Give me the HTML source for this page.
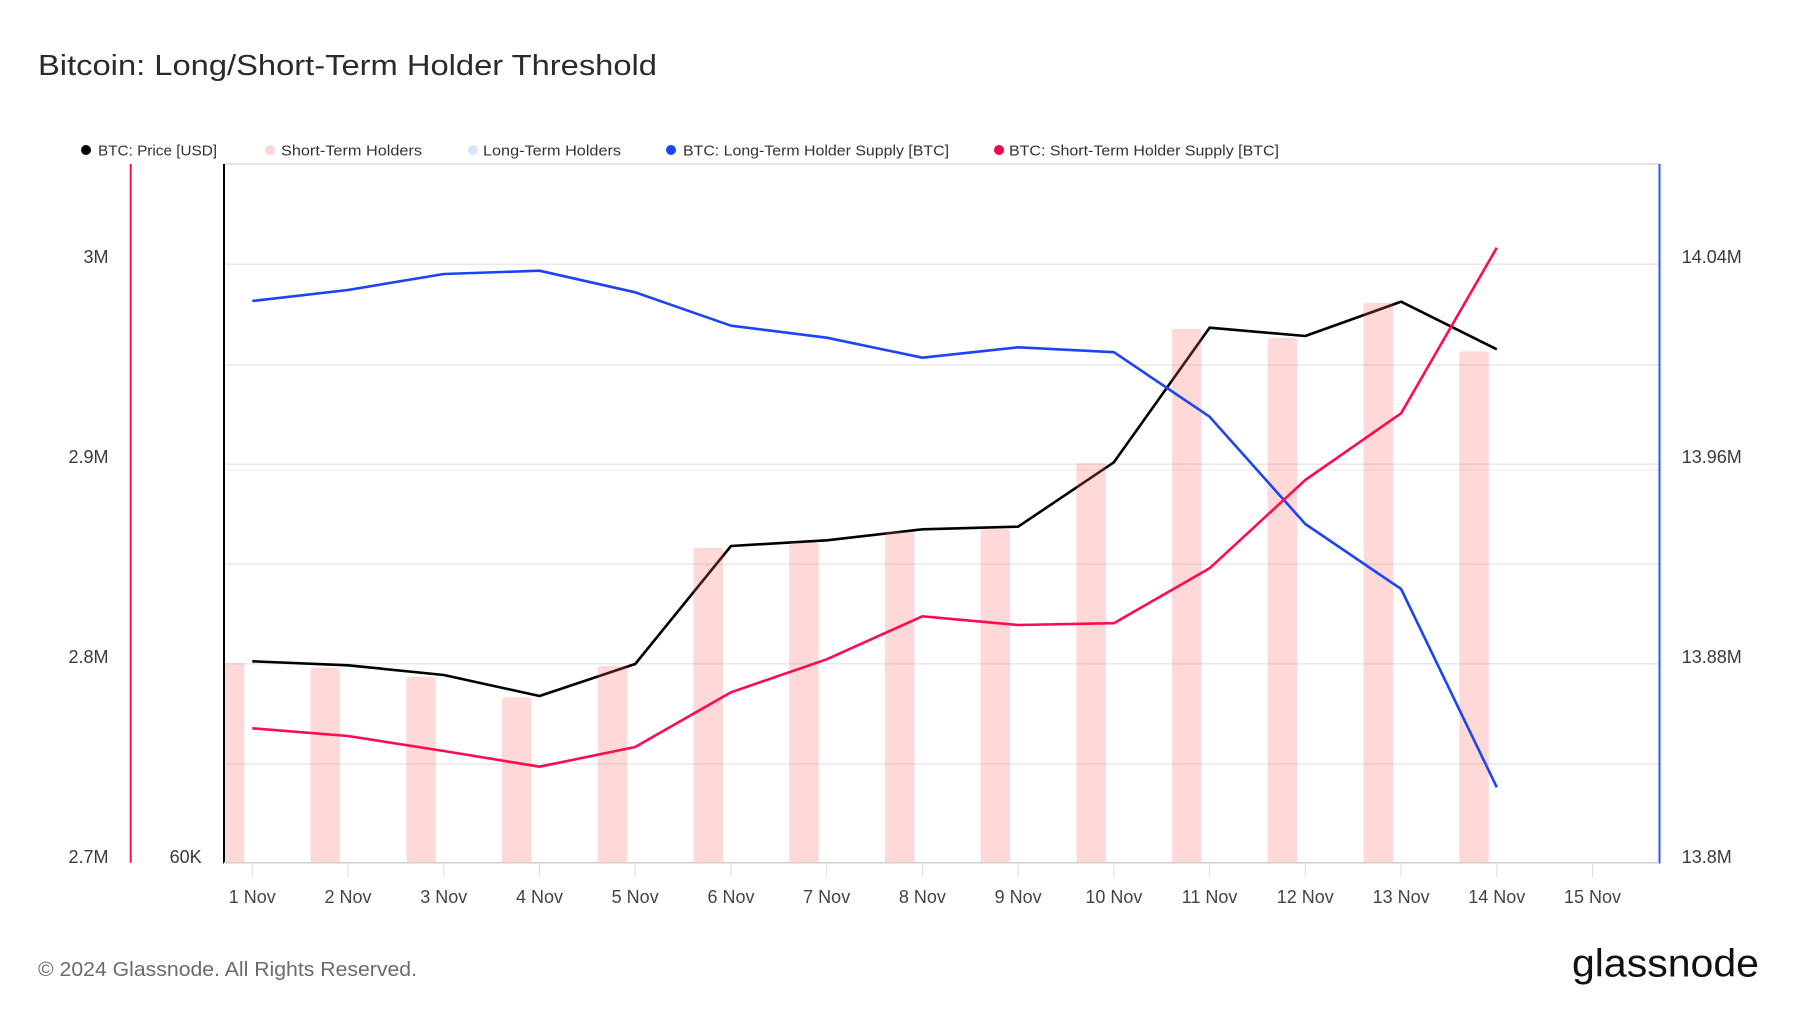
<!DOCTYPE html>
<html>
<head>
<meta charset="utf-8">
<style>
  html, body { margin: 0; padding: 0; background: #ffffff; }
  svg { display: block; }
  text { font-family: "Liberation Sans", Arial, sans-serif; }
</style>
</head>
<body>
<svg width="1800" height="1013" viewBox="0 0 1800 1013" xmlns="http://www.w3.org/2000/svg">
  <rect x="0" y="0" width="1800" height="1013" fill="#ffffff"/>

  <!-- Title -->
  <text x="38" y="75" font-size="29" fill="#2b2b2b" textLength="619" lengthAdjust="spacingAndGlyphs">Bitcoin: Long/Short-Term Holder Threshold</text>

  <!-- Legend -->
  <g font-size="15" fill="#333333">
    <circle cx="86" cy="150" r="5" fill="#000000"/>
    <text x="98" y="155.5" textLength="119" lengthAdjust="spacingAndGlyphs">BTC: Price [USD]</text>
    <circle cx="270" cy="150" r="5" fill="#fdd5d5"/>
    <text x="281" y="155.5" textLength="141" lengthAdjust="spacingAndGlyphs">Short-Term Holders</text>
    <circle cx="473" cy="150" r="5" fill="#d5e4fb"/>
    <text x="483" y="155.5" textLength="138" lengthAdjust="spacingAndGlyphs">Long-Term Holders</text>
    <circle cx="671" cy="150" r="5" fill="#1a44f5"/>
    <text x="683" y="155.5" textLength="266" lengthAdjust="spacingAndGlyphs">BTC: Long-Term Holder Supply [BTC]</text>
    <circle cx="999" cy="150" r="5" fill="#f5004f"/>
    <text x="1009" y="155.5" textLength="270" lengthAdjust="spacingAndGlyphs">BTC: Short-Term Holder Supply [BTC]</text>
  </g>

  <!-- Top frame line -->
  <line x1="224" y1="164" x2="1660" y2="164" stroke="#e3e3e3" stroke-width="2"/>

  <!-- Gridlines -->
  <g stroke="#e8e8e8" stroke-width="1.5">
    <line x1="224" y1="264.3" x2="1659" y2="264.3"/>
    <line x1="224" y1="365" x2="1659" y2="365"/>
    <line x1="224" y1="464.3" x2="1659" y2="464.3"/>
    <line x1="224" y1="470" x2="1659" y2="470" stroke="#f2f2f2"/>
    <line x1="224" y1="564.3" x2="1659" y2="564.3"/>
    <line x1="224" y1="663.7" x2="1659" y2="663.7"/>
    <line x1="224" y1="763.7" x2="1659" y2="763.7"/>
  </g>

  <!-- Price line (under bars) -->
  <polyline fill="none" stroke="#000000" stroke-width="2.6" stroke-linejoin="round"
    points="252.3,661.3 348.0,665.3 443.8,675 539.5,696 635.2,664 731.0,546 826.7,540.3 922.4,529.3 1018.1,526.7 1113.9,462.3 1209.6,327.7 1305.3,336 1401.1,301.7 1496.8,349.3"/>

  <!-- Bars (Short-Term Holders) -->
  <defs>
    <clipPath id="plotclip"><rect x="225" y="164" width="1434" height="699"/></clipPath>
  </defs>
  <g fill="rgba(255,100,100,0.25)" clip-path="url(#plotclip)">
    <path d="M214.8,862.7 V666.3 a3,3 0 0 1 3,-3 H241.3 a3,3 0 0 1 3,3 V862.7 Z"/>
    <path d="M310.5,862.7 V670.7 a3,3 0 0 1 3,-3 H337.0 a3,3 0 0 1 3,3 V862.7 Z"/>
    <path d="M406.3,862.7 V679.7 a3,3 0 0 1 3,-3 H432.8 a3,3 0 0 1 3,3 V862.7 Z"/>
    <path d="M502.0,862.7 V700.3 a3,3 0 0 1 3,-3 H528.5 a3,3 0 0 1 3,3 V862.7 Z"/>
    <path d="M597.7,862.7 V669.0 a3,3 0 0 1 3,-3 H624.2 a3,3 0 0 1 3,3 V862.7 Z"/>
    <path d="M693.5,862.7 V550.7 a3,3 0 0 1 3,-3 H720.0 a3,3 0 0 1 3,3 V862.7 Z"/>
    <path d="M789.2,862.7 V545.7 a3,3 0 0 1 3,-3 H815.7 a3,3 0 0 1 3,3 V862.7 Z"/>
    <path d="M884.9,862.7 V534.7 a3,3 0 0 1 3,-3 H911.4 a3,3 0 0 1 3,3 V862.7 Z"/>
    <path d="M980.6,862.7 V532.3 a3,3 0 0 1 3,-3 H1007.1 a3,3 0 0 1 3,3 V862.7 Z"/>
    <path d="M1076.4,862.7 V466.3 a3,3 0 0 1 3,-3 H1102.9 a3,3 0 0 1 3,3 V862.7 Z"/>
    <path d="M1172.1,862.7 V332.0 a3,3 0 0 1 3,-3 H1198.6 a3,3 0 0 1 3,3 V862.7 Z"/>
    <path d="M1267.8,862.7 V340.7 a3,3 0 0 1 3,-3 H1294.3 a3,3 0 0 1 3,3 V862.7 Z"/>
    <path d="M1363.6,862.7 V306.0 a3,3 0 0 1 3,-3 H1390.1 a3,3 0 0 1 3,3 V862.7 Z"/>
    <path d="M1459.3,862.7 V354.3 a3,3 0 0 1 3,-3 H1485.8 a3,3 0 0 1 3,3 V862.7 Z"/>
  </g>

  <!-- Long-Term Holder Supply (blue) -->
  <polyline fill="none" stroke="#1a44f5" stroke-width="2.6" stroke-linejoin="round"
    points="252.3,301 348.0,290 443.8,274 539.5,270.7 635.2,292.3 731.0,325.7 826.7,337.7 922.4,357.7 1018.1,347.3 1113.9,352.2 1209.6,416.7 1305.3,524 1401.1,589 1496.8,787.3"/>

  <!-- Short-Term Holder Supply (red) -->
  <polyline fill="none" stroke="#ff0a55" stroke-width="2.6" stroke-linejoin="round"
    points="252.3,728.3 348.0,736 443.8,751 539.5,766.7 635.2,747 731.0,692.3 826.7,659.3 922.4,616.3 1018.1,625 1113.9,623.2 1209.6,568.3 1305.3,480 1401.1,413.3 1496.8,247.7"/>

  <!-- Axes -->
  <line x1="130.7" y1="164" x2="130.7" y2="862.7" stroke="#ff0a55" stroke-width="2"/>
  <line x1="224" y1="164" x2="224" y2="863.5" stroke="#000000" stroke-width="2"/>
  <line x1="1659.5" y1="164" x2="1659.5" y2="863.5" stroke="#2f55f0" stroke-width="2"/>
  <line x1="224" y1="862.7" x2="1659" y2="862.7" stroke="#cfcfcf" stroke-width="1.5"/>

  <!-- X ticks -->
  <g stroke="#dcdcdc" stroke-width="1">
    <line x1="252.3" y1="863" x2="252.3" y2="877"/>
    <line x1="348.0" y1="863" x2="348.0" y2="877"/>
    <line x1="443.8" y1="863" x2="443.8" y2="877"/>
    <line x1="539.5" y1="863" x2="539.5" y2="877"/>
    <line x1="635.2" y1="863" x2="635.2" y2="877"/>
    <line x1="731.0" y1="863" x2="731.0" y2="877"/>
    <line x1="826.7" y1="863" x2="826.7" y2="877"/>
    <line x1="922.4" y1="863" x2="922.4" y2="877"/>
    <line x1="1018.1" y1="863" x2="1018.1" y2="877"/>
    <line x1="1113.9" y1="863" x2="1113.9" y2="877"/>
    <line x1="1209.6" y1="863" x2="1209.6" y2="877"/>
    <line x1="1305.3" y1="863" x2="1305.3" y2="877"/>
    <line x1="1401.1" y1="863" x2="1401.1" y2="877"/>
    <line x1="1496.8" y1="863" x2="1496.8" y2="877"/>
    <line x1="1592.5" y1="863" x2="1592.5" y2="877"/>
  </g>

  <!-- X labels -->
  <g font-size="18" fill="#444444" text-anchor="middle">
    <text x="252.3" y="903">1 Nov</text>
    <text x="348.0" y="903">2 Nov</text>
    <text x="443.8" y="903">3 Nov</text>
    <text x="539.5" y="903">4 Nov</text>
    <text x="635.2" y="903">5 Nov</text>
    <text x="731.0" y="903">6 Nov</text>
    <text x="826.7" y="903">7 Nov</text>
    <text x="922.4" y="903">8 Nov</text>
    <text x="1018.1" y="903">9 Nov</text>
    <text x="1113.9" y="903">10 Nov</text>
    <text x="1209.6" y="903">11 Nov</text>
    <text x="1305.3" y="903">12 Nov</text>
    <text x="1401.1" y="903">13 Nov</text>
    <text x="1496.8" y="903">14 Nov</text>
    <text x="1592.5" y="903">15 Nov</text>
  </g>

  <!-- Left axis labels -->
  <g font-size="18" fill="#3a3a3a" text-anchor="end">
    <text x="108.5" y="262.8">3M</text>
    <text x="108.5" y="462.8">2.9M</text>
    <text x="108.5" y="662.8">2.8M</text>
    <text x="108.5" y="862.8">2.7M</text>
    <text x="201.7" y="862.8">60K</text>
  </g>

  <!-- Right axis labels -->
  <g font-size="18" fill="#3a3a3a" text-anchor="start">
    <text x="1681.7" y="262.8">14.04M</text>
    <text x="1681.7" y="462.8">13.96M</text>
    <text x="1681.7" y="662.8">13.88M</text>
    <text x="1681.7" y="862.8">13.8M</text>
  </g>

  <!-- Footer -->
  <text x="38" y="976" font-size="20" fill="#6b6b6b" textLength="379" lengthAdjust="spacingAndGlyphs">© 2024 Glassnode. All Rights Reserved.</text>
  <text x="1572" y="976.7" font-size="39" fill="#111111" textLength="187" lengthAdjust="spacingAndGlyphs">glassnode</text>
</svg>
</body>
</html>
